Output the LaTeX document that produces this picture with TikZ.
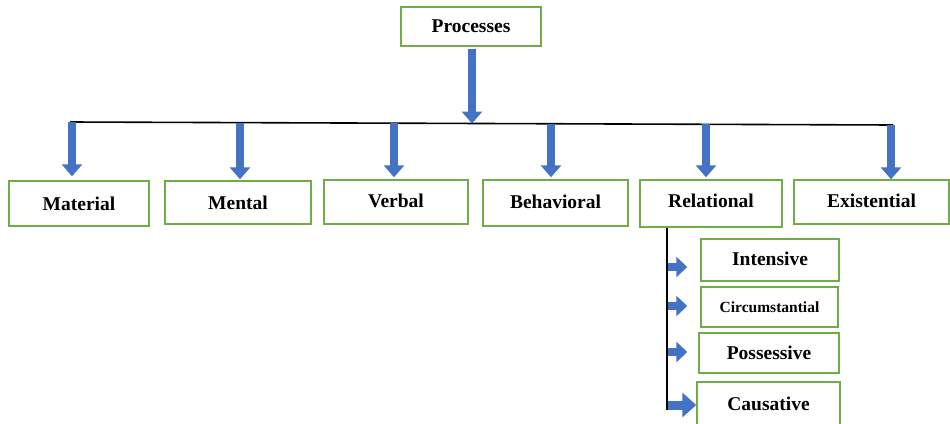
\documentclass[tikz,border=0pt]{standalone}
\usepackage{fontspec}
\setmainfont{Liberation Serif}
\usetikzlibrary{arrows.meta}
\definecolor{boxgreen}{RGB}{112,173,71}
\definecolor{arrowblue}{RGB}{68,114,196}
\tikzset{
  box/.style={draw=boxgreen, line width=1.4pt, fill=white, rectangle, inner sep=0pt,
    font=\bfseries\fontsize{19.5}{22}\selectfont, text=black},
  blockdown/.style={draw=arrowblue, line width=8pt,
    -{Triangle[width=20pt,length=12pt]}},
  blockright/.style={draw=arrowblue, line width=8pt,
    -{Triangle[width=20pt,length=11pt]}},
  bar/.style={draw=black, line width=1.6pt}
}
\begin{document}
\begin{tikzpicture}[x=1pt,y=-1pt]
\useasboundingbox (0,0) rectangle (950,423);
\clip (0,0) rectangle (950,423);
\fill[white] (0,0) rectangle (950,423);

% top node
\node[box, minimum width=140pt, minimum height=39pt] (proc) at (471,26.5) {Processes};

% main level
\node[box, minimum width=140pt, minimum height=45pt] (mat) at (79,203.5) {Material};
\node[box, minimum width=146pt, minimum height=43pt] (men) at (238,202.5) {Mental};
\node[box, minimum width=144pt, minimum height=44pt] (verb) at (396,202) {\raisebox{3pt}{Verbal}};
\node[box, minimum width=145pt, minimum height=46pt] (beh) at (555.5,203) {\raisebox{2pt}{Behavioral}};
\node[box, minimum width=142pt, minimum height=47pt] (rel) at (711,203.5) {\raisebox{6pt}{Relational}};
\node[box, minimum width=155pt, minimum height=44pt] (exi) at (871.5,202) {\raisebox{2pt}{Existential}};

% sub level
\node[box, minimum width=138pt, minimum height=42pt] (int) at (770,260) {\raisebox{2pt}{Intensive}};
\node[box, minimum width=137pt, minimum height=40pt, font=\bfseries\fontsize{15.5}{18}\selectfont] (cir) at (769.5,307) {Circumstantial};
\node[box, minimum width=140pt, minimum height=40pt] (pos) at (769,353) {Possessive};
\node[box, minimum width=143pt, minimum height=48pt] (cau) at (768.5,406) {\raisebox{5pt}{Causative}};

% bar coordinates
\coordinate (barL) at (70,122);
\coordinate (barR) at (893,125);
\coordinate (barM) at (472,123.5);
\draw[bar] (barL) -- (barR);

% main arrow
\draw[blockdown, shorten <=2pt] (proc.south -| barM) -- (barM);

% drops
\coordinate (d1) at (72,122);
\coordinate (d2) at (240,122.5);
\coordinate (d3) at (394,123);
\coordinate (d4) at (551,123.5);
\coordinate (d5) at (706,124);
\coordinate (d6) at (891,125);
\draw[blockdown, shorten >=4pt] (d1) -- (d1 |- mat.north);
\draw[blockdown, shorten >=1pt] (d2) -- (d2 |- men.north);
\draw[blockdown, shorten >=2pt] (d3) -- (d3 |- verb.north);
\draw[blockdown, shorten >=2pt] (d4) -- (d4 |- beh.north);
\draw[blockdown, shorten >=2pt] (d5) -- (d5 |- rel.north);
\draw[blockdown, shorten >=0pt] (d6) -- (d6 |- exi.north);

% relational branch
\coordinate (vtop) at (667,228);
\coordinate (vbot) at (667,410);
\draw[bar, line width=1.8pt] (vtop) -- (vbot);
\coordinate (r1) at (668,267);
\coordinate (r2) at (668,306);
\coordinate (r3) at (668,352);
\coordinate (r4) at (668,405);
\draw[blockright, shorten >=13pt] (r1) -- (r1 -| int.west);
\draw[blockright, shorten >=13pt] (r2) -- (r2 -| cir.west);
\draw[blockright, shorten >=11pt] (r3) -- (r3 -| pos.west);
\draw[draw=arrowblue, line width=9pt, -{Triangle[width=24pt,length=14pt]}, shorten >=0pt] (r4) -- (r4 -| cau.west);
\end{tikzpicture}
\end{document}
